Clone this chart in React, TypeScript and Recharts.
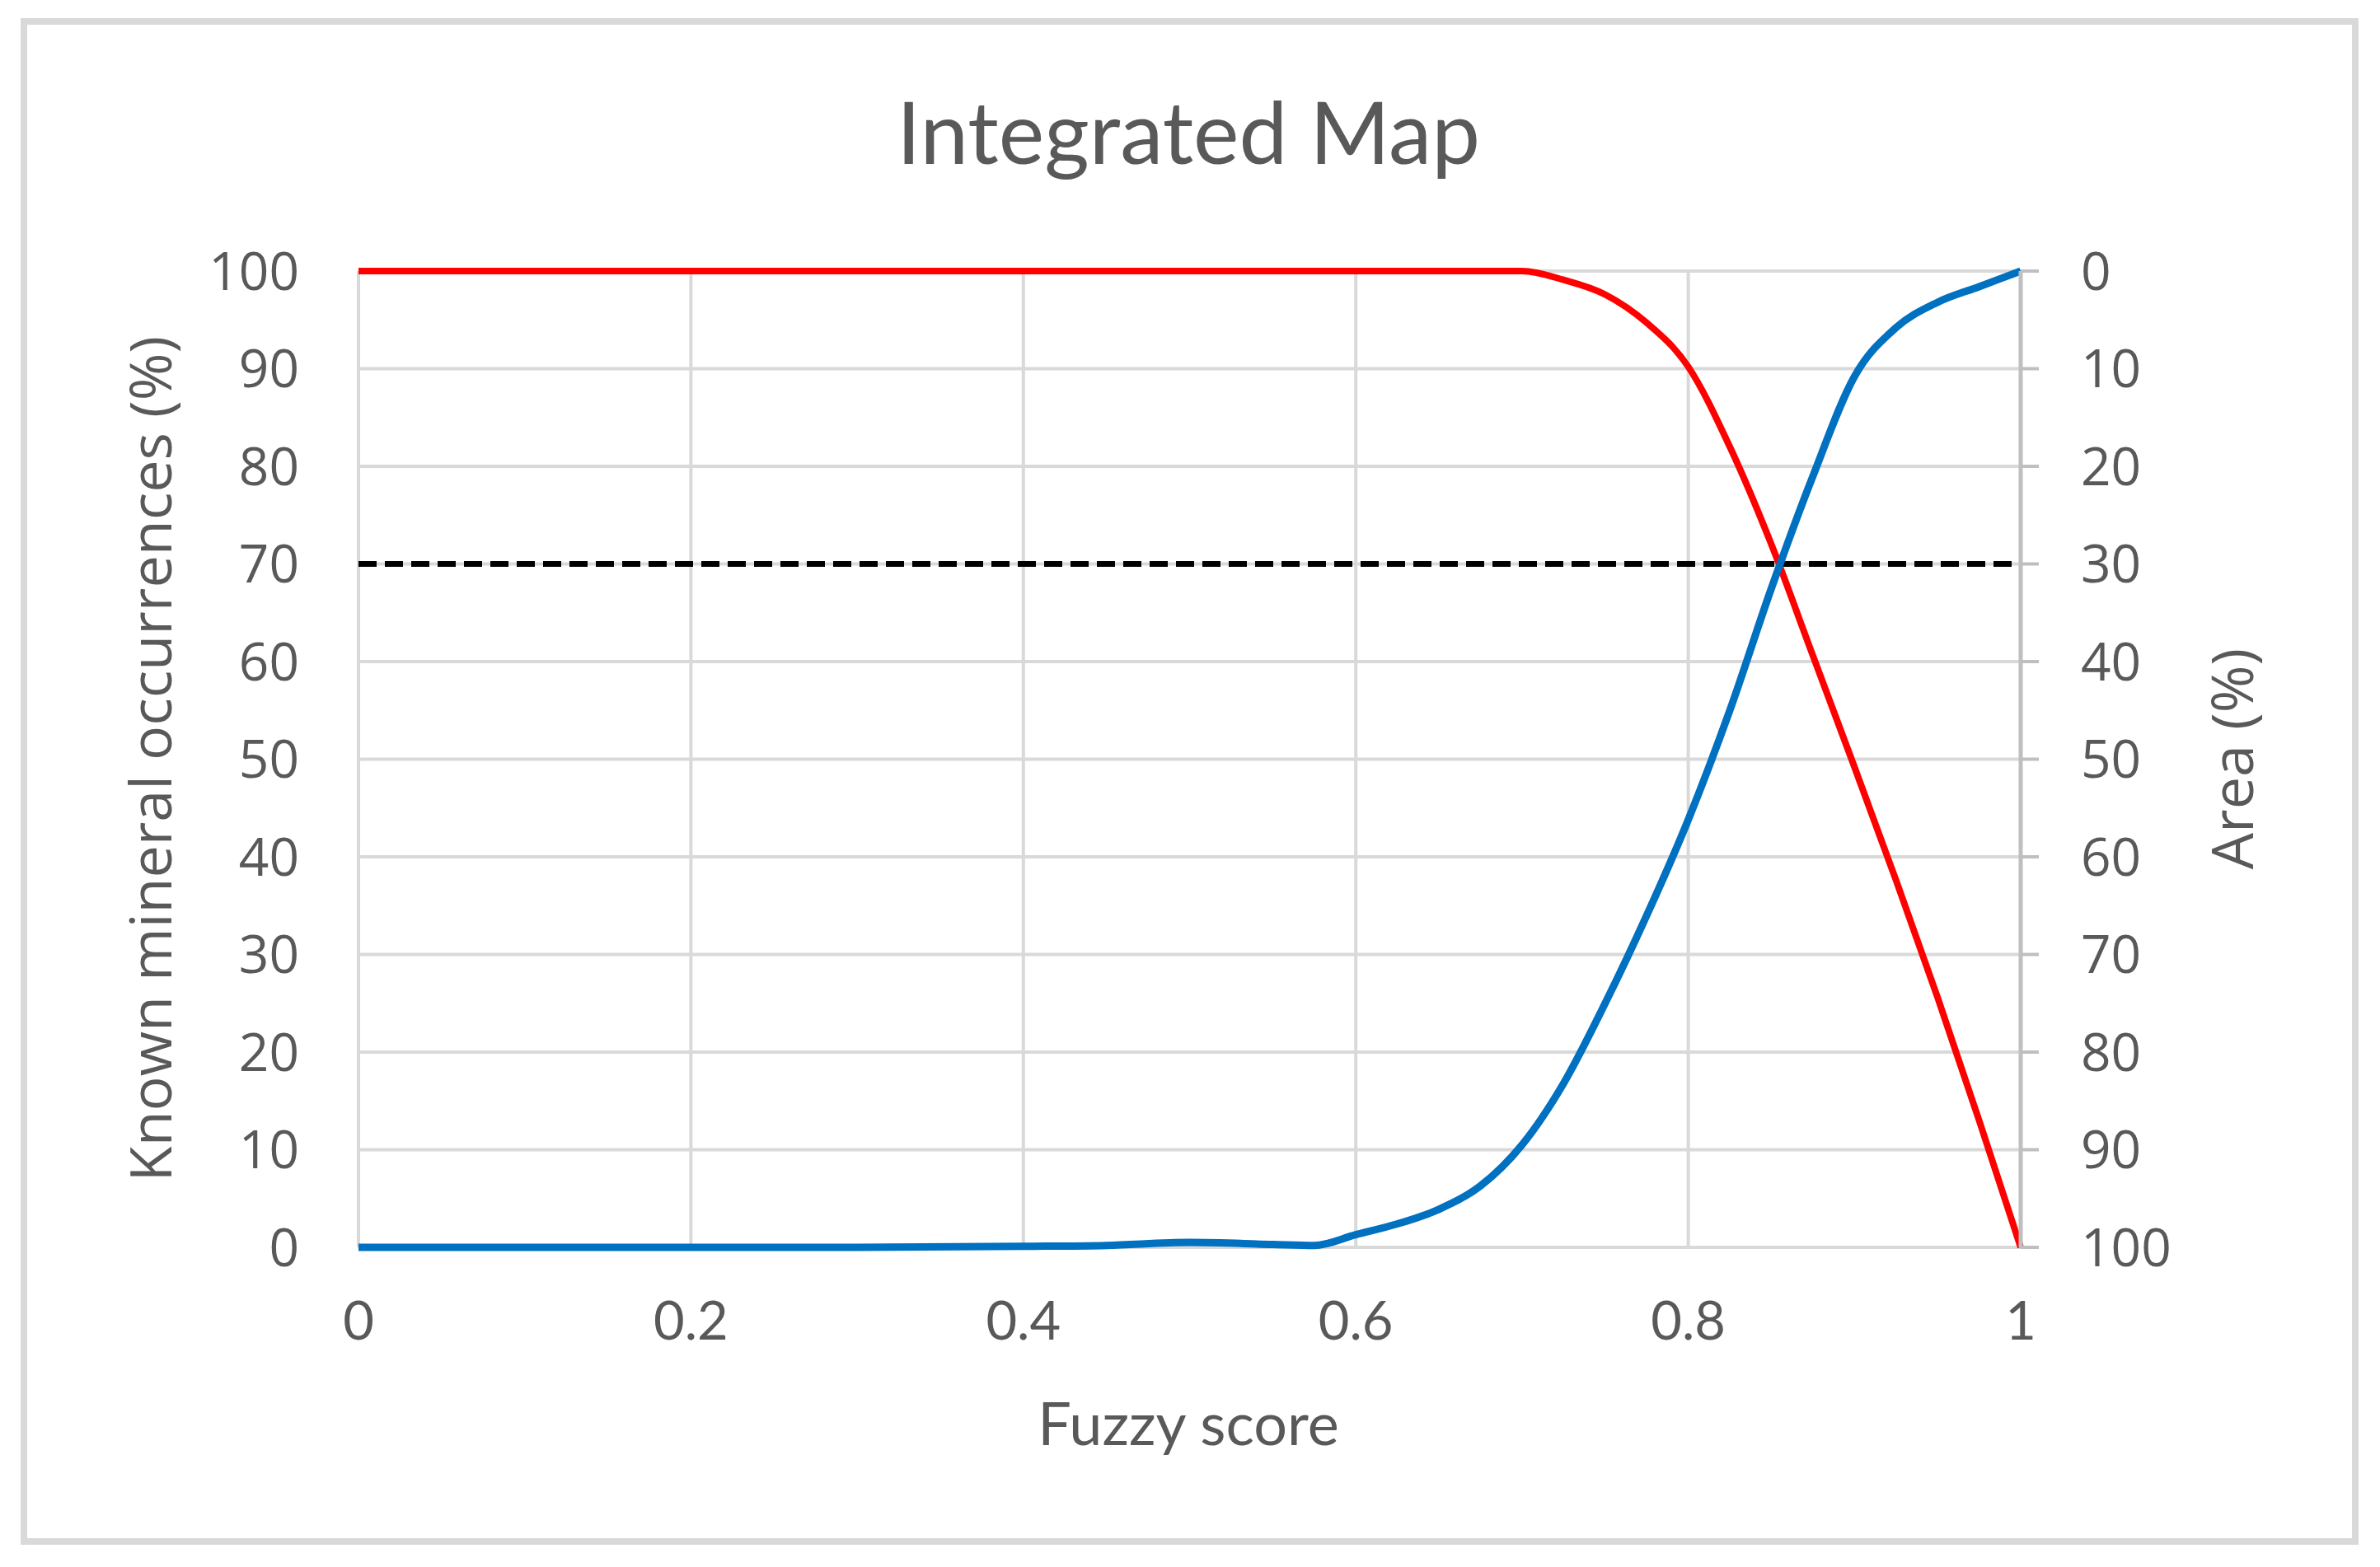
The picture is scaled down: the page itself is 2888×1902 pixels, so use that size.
import React from "react";
import { LineChart, Line, XAxis, YAxis, CartesianGrid, ReferenceLine } from "recharts";

// fuzzy score vs known mineral occurrences (%) - red, left axis
const redScore = [0, 0.2, 0.4, 0.6, 0.65, 0.7, 0.725, 0.75, 0.775, 0.8, 0.825, 0.85, 0.875, 0.9, 0.925, 0.95, 0.975, 1];
const occurrences = [100, 100, 100, 100, 100, 100, 99.1, 97.6, 94.7, 90.2, 82, 72, 60.6, 49.2, 37.6, 25.6, 13, 0];

// fuzzy score vs area (%) - blue, right axis (reversed)
const blueScore = [0, 0.1, 0.2, 0.3, 0.4, 0.45, 0.5, 0.55, 0.575, 0.6, 0.625, 0.65, 0.675, 0.7, 0.725, 0.75, 0.775, 0.8, 0.825, 0.85, 0.875, 0.9, 0.925, 0.95, 0.975, 1];
const area = [100, 100, 100, 100, 99.9, 99.8, 99.5, 99.7, 99.8, 98.7, 97.6, 96.1, 93.7, 89.5, 83.2, 75, 66, 56.2, 45, 32.5, 21, 10.8, 5.8, 3.2, 1.6, 0];

const xTicks = [0, 0.2, 0.4, 0.6, 0.8, 1];
const yTicks = [0, 10, 20, 30, 40, 50, 60, 70, 80, 90, 100];
const threshold = 70;

const redData = redScore.map((x, i) => ({ x, occ: occurrences[i] }));
const blueData = blueScore.map((x, i) => ({ x, area: area[i] }));

const W = 2888;
const H = 1902;
const TEXT = "#595959";
const GRID = "#d9d9d9";
const AXIS = "#bfbfbf";

export default function App() {
    return (
        <div style={{ position: "absolute", left: 0, top: 0, width: W, height: H, background: "#fff" }}>
            <LineChart width={W} height={H} margin={{ top: 329, right: 136, bottom: 238, left: 135 }}>
                <CartesianGrid stroke={GRID} strokeWidth={4} yAxisId="left" />
                <XAxis
                    dataKey="x"
                    type="number"
                    domain={[0, 1]}
                    ticks={xTicks}
                    height={150}
                    axisLine={false}
                    tickLine={false}
                    tickSize={0}
                    tickMargin={66}
                    tick={{ fill: TEXT, fontSize: 65, fontFamily: "Lato" }}
                />
                <YAxis
                    yAxisId="left"
                    domain={[0, 100]}
                    ticks={yTicks}
                    width={300}
                    axisLine={false}
                    tickLine={false}
                    tickSize={0}
                    tickMargin={72}
                    tick={{ fill: TEXT, fontSize: 64, fontFamily: "Open Sans" }}
                />
                <YAxis
                    yAxisId="right"
                    orientation="right"
                    domain={[0, 100]}
                    ticks={yTicks}
                    reversed
                    width={300}
                    axisLine={{ stroke: AXIS, strokeWidth: 5 }}
                    tickLine={{ stroke: AXIS, strokeWidth: 4 }}
                    tickSize={22}
                    tickMargin={51}
                    tick={{ fill: TEXT, fontSize: 64, fontFamily: "Open Sans", textAnchor: "start" }}
                />
                <ReferenceLine yAxisId="left" y={threshold} stroke="#000" strokeWidth={7} strokeDasharray="22 10" />
                <Line
                    yAxisId="left"
                    data={redData}
                    dataKey="occ"
                    type="monotone"
                    stroke="#ff0000"
                    strokeWidth={8}
                    dot={false}
                    isAnimationActive={false}
                />
                <Line
                    yAxisId="right"
                    data={blueData}
                    dataKey="area"
                    type="monotone"
                    stroke="#0070c0"
                    strokeWidth={9}
                    dot={false}
                    isAnimationActive={false}
                />
            </LineChart>
            <svg width={W} height={H} style={{ position: "absolute", left: 0, top: 0, pointerEvents: "none" }}>
                <rect x={29} y={26} width={2829} height={1845} fill="none" stroke={GRID} strokeWidth={8} />
                <text x={1442} y={199} textAnchor="middle" fill={TEXT} fontSize={105} fontFamily="Lato">
                    Integrated Map
                </text>
                <text transform="translate(208,921) rotate(-90)" textAnchor="middle" fill={TEXT} fontSize={70} fontFamily="Open Sans">
                    Known mineral occurrences (%)
                </text>
                <text transform="translate(2734,921) rotate(-90)" textAnchor="middle" fill={TEXT} fontSize={70} fontFamily="Open Sans">
                    Area (%)
                </text>
                <text x={1442} y={1754} textAnchor="middle" fill={TEXT} fontSize={72} fontFamily="Lato">
                    Fuzzy score
                </text>
            </svg>
        </div>
    );
}
